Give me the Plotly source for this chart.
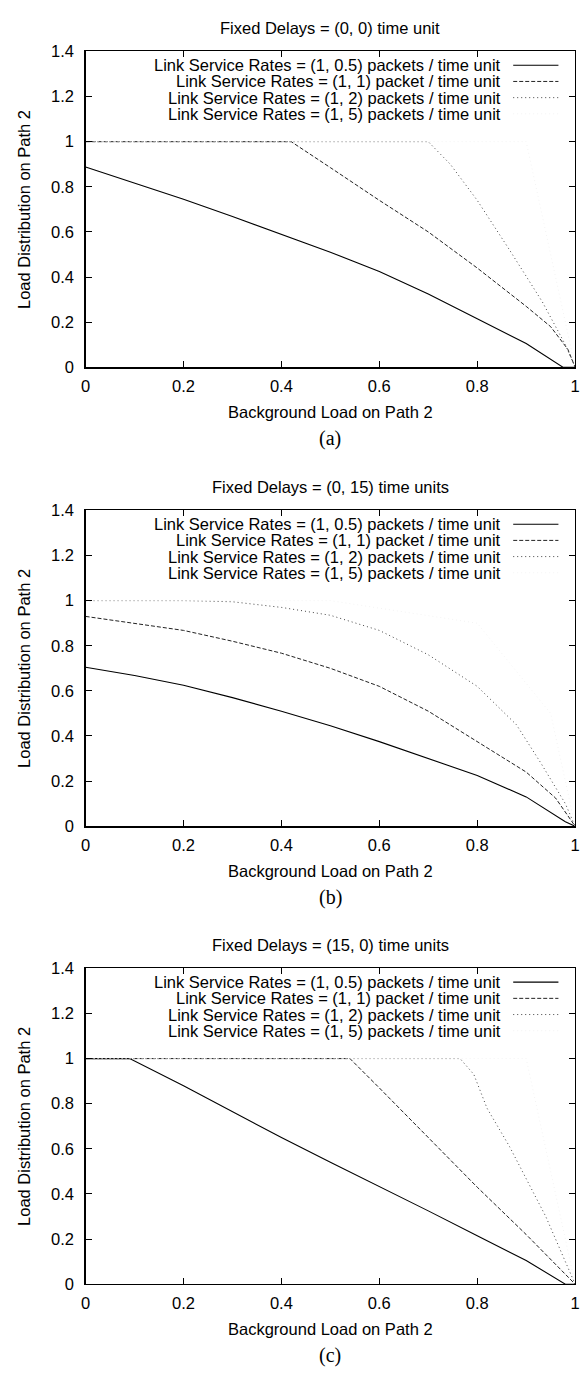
import plotly.graph_objects as go

W, H = 588, 1383

# ---------------- data ----------------
X_TICKS = [0, 0.2, 0.4, 0.6, 0.8, 1]
X_TICK_TEXT = ["0", "0.2", "0.4", "0.6", "0.8", "1"]
Y_TICKS = [0, 0.2, 0.4, 0.6, 0.8, 1, 1.2, 1.4]
Y_TICK_TEXT = ["0", "0.2", "0.4", "0.6", "0.8", "1", "1.2", "1.4"]

PANEL_TITLES = ["Fixed Delays = (0, 0) time unit",
                "Fixed Delays = (0, 15) time units",
                "Fixed Delays = (15, 0) time units"]
CAPTIONS = ["(a)", "(b)", "(c)"]
SERIES_NAMES = ["Link Service Rates = (1, 0.5) packets / time unit",
                "Link Service Rates = (1, 1) packet / time unit",
                "Link Service Rates = (1, 2) packets / time unit",
                "Link Service Rates = (1, 5) packets / time unit"]
X_TITLE = "Background Load on Path 2"
Y_TITLE = "Load Distribution on Path 2"

# panel (a)
A_X1 = [0, 0.1, 0.2, 0.3, 0.4, 0.5, 0.6, 0.7, 0.8, 0.9, 0.975, 1.0]
A_Y1 = [0.888, 0.815, 0.745, 0.668, 0.59, 0.51, 0.425, 0.325, 0.215, 0.105, 0.0, 0.0]
A_X2 = [0, 0.42, 0.5, 0.6, 0.7, 0.8, 0.9, 0.95, 0.985, 1.0]
A_Y2 = [1, 1, 0.885, 0.74, 0.60, 0.44, 0.27, 0.18, 0.08, 0.0]
A_X3 = [0, 0.70, 0.745, 0.8, 0.866, 0.933, 0.98, 1.0]
A_Y3 = [1, 1, 0.90, 0.74, 0.52, 0.29, 0.10, 0.0]
A_X4 = [0, 0.9, 1.0]
A_Y4 = [1, 1, 0.0]

# panel (b)
B_X1 = [0, 0.1, 0.2, 0.3, 0.4, 0.5, 0.6, 0.7, 0.8, 0.9, 0.98, 1.0]
B_Y1 = [0.705, 0.668, 0.625, 0.57, 0.51, 0.445, 0.375, 0.30, 0.225, 0.13, 0.02, 0.0]
B_X2 = [0, 0.1, 0.2, 0.3, 0.4, 0.5, 0.6, 0.7, 0.8, 0.9, 0.96, 1.0]
B_Y2 = [0.93, 0.90, 0.868, 0.82, 0.767, 0.70, 0.62, 0.51, 0.375, 0.24, 0.125, 0.0]
B_X3 = [0, 0.1, 0.2, 0.3, 0.4, 0.5, 0.6, 0.7, 0.8, 0.88, 0.93, 0.98, 1.0]
B_Y3 = [1.0, 1.0, 1.0, 0.995, 0.97, 0.935, 0.868, 0.76, 0.62, 0.45, 0.28, 0.10, 0.0]
B_X4 = [0, 0.5, 0.8, 0.95, 1.0]
B_Y4 = [1.0, 1.0, 0.9, 0.5, 0.0]

# panel (c)
C_X1 = [0, 0.09, 0.2, 0.3, 0.4, 0.5, 0.6, 0.7, 0.8, 0.9, 0.98, 1.0]
C_Y1 = [1.0, 1.0, 0.88, 0.765, 0.65, 0.54, 0.434, 0.325, 0.215, 0.105, 0.0, 0.0]
C_X2 = [0, 0.54, 0.6, 0.7, 0.8, 0.9, 0.97, 1.0]
C_Y2 = [1.0, 1.0, 0.87, 0.65, 0.43, 0.22, 0.065, 0.0]
C_X3 = [0, 0.765, 0.793, 0.82, 0.866, 0.927, 0.94, 1.0]
C_Y3 = [1.0, 1.0, 0.93, 0.78, 0.61, 0.35, 0.30, 0.0]
C_X4 = [0, 0.9, 1.0]
C_Y4 = [1.0, 1.0, 0.0]

PANELS = [
    [(A_X1, A_Y1), (A_X2, A_Y2), (A_X3, A_Y3), (A_X4, A_Y4)],
    [(B_X1, B_Y1), (B_X2, B_Y2), (B_X3, B_Y3), (B_X4, B_Y4)],
    [(C_X1, C_Y1), (C_X2, C_Y2), (C_X3, C_Y3), (C_X4, C_Y4)],
]

# ---------------- styling / layout ----------------
FONT = "Liberation Sans, Arial, Helvetica, sans-serif"
SERIF = "Liberation Serif, Times New Roman, serif"
FS = 16.5
STYLES = [dict(color="#000000", width=1.1, dash="solid"),
          dict(color="#222222", width=1.0, dash="4px,2px"),
          dict(color="#444444", width=1.0, dash="1px,3px"),
          dict(color="#f3f3f3", width=1.0, dash="1px,3px")]

PLOT_LEFT, PLOT_RIGHT = 82, 580
PLOT_TOPS = [43, 508, 972]
PLOT_H = 320


def px(xp):
    return xp / W


def py(yp):
    return 1 - yp / H


fig = go.Figure()
annotations = []
shapes = []

for i, series in enumerate(PANELS):
    n = "" if i == 0 else str(i + 1)
    xa, ya = "x" + n, "y" + n
    top = PLOT_TOPS[i]
    bot = top + PLOT_H
    for j, (xs, ys) in enumerate(series):
        fig.add_trace(go.Scatter(x=xs, y=ys, mode="lines", name=SERIES_NAMES[j],
                                 line=STYLES[j], xaxis=xa, yaxis=ya,
                                 showlegend=False, hoverinfo="skip"))
    axis_common = dict(showline=True, linecolor="black", linewidth=1.3, mirror="ticks",
                       ticks="inside", ticklen=6, tickwidth=1, tickcolor="black",
                       showgrid=False, zeroline=False,
                       tickfont=dict(family=FONT, size=FS, color="black"))
    fig.layout["xaxis" + n] = dict(domain=[px(PLOT_LEFT), px(PLOT_RIGHT)], range=[0, 1],
                                   anchor=ya, tickvals=X_TICKS, ticktext=X_TICK_TEXT,
                                   ticklabelstandoff=4, **axis_common)
    fig.layout["yaxis" + n] = dict(domain=[py(bot), py(top)], range=[0, 1.4],
                                   anchor=xa, tickvals=Y_TICKS, ticktext=Y_TICK_TEXT,
                                   ticklabelstandoff=7, **axis_common)
    cx = (PLOT_LEFT + PLOT_RIGHT) / 2
    annotations.append(dict(text=PANEL_TITLES[i], x=px(cx), y=py(top - 24), xref="paper",
                            yref="paper", showarrow=False, xanchor="center", yanchor="middle",
                            font=dict(family=FONT, size=FS, color="black")))
    annotations.append(dict(text=X_TITLE, x=px(cx), y=py(bot + 45), xref="paper",
                            yref="paper", showarrow=False, xanchor="center", yanchor="middle",
                            font=dict(family=FONT, size=FS, color="black")))
    annotations.append(dict(text=Y_TITLE, x=px(20), y=py(top + PLOT_H / 2), xref="paper",
                            yref="paper", showarrow=False, xanchor="center", yanchor="middle",
                            textangle=-90, font=dict(family=FONT, size=FS, color="black")))
    annotations.append(dict(text=CAPTIONS[i], x=px(cx), y=py(bot + 72), xref="paper",
                            yref="paper", showarrow=False, xanchor="center", yanchor="middle",
                            font=dict(family=SERIF, size=20, color="black")))
    # key (gnuplot style: text then sample on the right)
    for j, name in enumerate(SERIES_NAMES):
        ry = top + 14 + 16.4 * j
        annotations.append(dict(text=name, x=px(507), y=py(ry), xref="paper", yref="paper",
                                showarrow=False, xanchor="right", yanchor="middle",
                                font=dict(family=FONT, size=FS, color="black")))
        shapes.append(dict(type="line", xref="paper", yref="paper",
                           x0=px(517), x1=px(563), y0=py(ry), y1=py(ry),
                           line=STYLES[j]))

fig.update_layout(width=W, height=H, autosize=False,
                  margin=dict(l=0, r=0, t=0, b=0),
                  paper_bgcolor="white", plot_bgcolor="white",
                  annotations=annotations, shapes=shapes, showlegend=False)

fig.write_html("out.html", config={"displayModeBar": False, "staticPlot": True},
               post_script="document.body.style.margin='0';document.body.style.padding='0';"
                           "document.body.style.overflow='hidden';")
